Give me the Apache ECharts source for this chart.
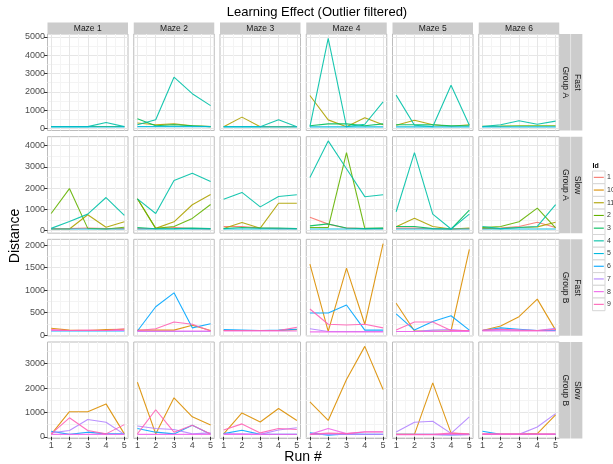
<!DOCTYPE html>
<html><head><meta charset="utf-8">
<script src="https://cdn.jsdelivr.net/npm/echarts@6/dist/echarts.min.js"></script>
<style>html,body{margin:0;padding:0;background:#fff}#c{width:613px;height:464px}</style>
</head><body><div id="c"></div>
<script>
// ---------- data ----------
const runs = [1, 2, 3, 4, 5];
const mazes = ['Maze 1', 'Maze 2', 'Maze 3', 'Maze 4', 'Maze 5', 'Maze 6'];
const rowSpeeds = ['Fast', 'Slow', 'Fast', 'Slow'];
const rowGroups = ['Group A', 'Group A', 'Group B', 'Group B'];
const ids = ['1', '10', '11', '2', '3', '4', '5', '6', '7', '8', '9'];
const xTicks = [1, 2, 3, 4, 5];
const xMinor = [1.5, 2.5, 3.5, 4.5];
const rowTicks = [
  [0, 1000, 2000, 3000, 4000, 5000],
  [0, 1000, 2000, 3000, 4000],
  [0, 500, 1000, 1500, 2000],
  [0, 1000, 2000, 3000]
];
const rowMinor = [
  [500, 1500, 2500, 3500, 4500],
  [500, 1500, 2500, 3500],
  [250, 750, 1250, 1750],
  [500, 1500, 2500, 3500]
];
const rowRange = [[-110, 5160], [-115, 4420], [-18, 2133], [-70, 3889]];

// each panel (maze): list of [id, distance per run]
const fastGroupA = [
  [['2', [110, 110, 110, 110, 110]], ['4', [100, 100, 100, 330, 100]], ['5', [90, 90, 90, 90, 90]]],
  [['11', [300, 200, 250, 150, 100]], ['3', [530, 150, 200, 150, 100]], ['4', [200, 480, 2800, 1900, 1250]], ['5', [100, 100, 100, 100, 100]]],
  [['11', [100, 620, 100, 100, 100]], ['4', [100, 100, 100, 480, 100]], ['5', [90, 90, 90, 90, 90]]],
  [['11', [1800, 470, 100, 590, 200]], ['3', [150, 250, 250, 150, 250]], ['4', [100, 4920, 100, 230, 1450]], ['5', [90, 90, 90, 90, 90]]],
  [['11', [180, 450, 200, 120, 200]], ['3', [200, 200, 200, 150, 150]], ['4', [1820, 180, 100, 2360, 180]], ['5', [90, 90, 90, 90, 90]]],
  [['2', [120, 130, 150, 150, 150]], ['4', [100, 200, 420, 230, 400]], ['5', [90, 90, 90, 90, 90]]]
];
const slowGroupA = [
  [['1', [100, 100, 130, 100, 100]], ['11', [80, 80, 750, 160, 420]], ['2', [810, 1980, 110, 80, 160]], ['4', [110, 430, 780, 1560, 720]], ['5', [80, 80, 80, 80, 80]]],
  [['1', [100, 100, 150, 100, 80]], ['11', [1500, 110, 420, 1220, 1700]], ['2', [1500, 110, 200, 580, 1230]], ['3', [150, 90, 100, 120, 100]], ['4', [1500, 810, 2360, 2700, 2310]], ['5', [80, 80, 80, 80, 80]]],
  [['1', [200, 200, 130, 100, 100]], ['11', [100, 390, 120, 1290, 1290]], ['3', [100, 150, 120, 130, 100]], ['4', [1480, 1800, 1120, 1610, 1690]], ['5', [80, 80, 80, 80, 80]]],
  [['1', [630, 310, 120, 100, 100]], ['2', [150, 150, 3670, 110, 110]], ['3', [230, 320, 130, 100, 120]], ['4', [2500, 4220, 2910, 1600, 1690]], ['5', [80, 80, 80, 80, 80]]],
  [['1', [120, 120, 100, 80, 100]], ['11', [190, 590, 200, 80, 130]], ['3', [200, 200, 100, 80, 970]], ['4', [890, 3670, 780, 80, 780]], ['5', [80, 80, 80, 80, 80]]],
  [['1', [100, 120, 200, 400, 150]], ['11', [120, 100, 150, 180, 400]], ['2', [150, 200, 420, 1060, 130]], ['4', [200, 100, 150, 200, 1230]], ['5', [80, 80, 80, 80, 80]]]
];
const fastGroupB = [
  [['10', [150, 110, 100, 120, 130]], ['6', [90, 90, 90, 90, 90]], ['8', [100, 100, 100, 100, 100]], ['9', [120, 100, 110, 100, 140]]],
  [['10', [110, 110, 110, 220, 100]], ['6', [90, 630, 940, 160, 250]], ['7', [80, 80, 80, 80, 80]], ['8', [90, 90, 90, 90, 90]], ['9', [100, 140, 290, 240, 90]]],
  [['10', [100, 100, 100, 100, 120]], ['6', [120, 110, 100, 110, 130]], ['8', [90, 90, 90, 90, 90]], ['9', [100, 100, 100, 100, 170]]],
  [['10', [1580, 80, 1490, 240, 2040]], ['6', [490, 490, 670, 110, 110]], ['7', [140, 80, 80, 80, 80]], ['8', [70, 70, 70, 70, 70]], ['9', [580, 240, 225, 240, 160]]],
  [['10', [710, 90, 90, 90, 1910]], ['6', [470, 110, 300, 430, 110]], ['7', [80, 80, 110, 120, 90]], ['8', [80, 80, 80, 80, 80]], ['9', [110, 290, 290, 100, 100]]],
  [['10', [100, 200, 410, 800, 110]], ['6', [100, 160, 130, 100, 100]], ['7', [100, 110, 110, 100, 150]], ['8', [90, 90, 90, 90, 90]], ['9', [110, 130, 110, 100, 130]]]
];
const slowGroupB = [
  [['10', [100, 1030, 1030, 1350, 120]], ['6', [230, 100, 190, 120, 120]], ['7', [160, 260, 710, 600, 100]], ['8', [100, 100, 100, 100, 100]], ['9', [120, 780, 260, 120, 500]]],
  [['10', [2240, 120, 1600, 820, 480]], ['6', [340, 190, 120, 470, 100]], ['7', [440, 340, 300, 120, 160]], ['8', [100, 100, 100, 100, 100]], ['9', [120, 1110, 190, 470, 120]]],
  [['10', [120, 980, 610, 1160, 670]], ['6', [130, 270, 100, 100, 100]], ['7', [120, 120, 100, 280, 370]], ['8', [100, 100, 100, 100, 100]], ['9', [280, 530, 160, 340, 300]]],
  [['10', [1430, 670, 2350, 3710, 1940]], ['6', [160, 70, 120, 100, 100]], ['7', [100, 100, 100, 100, 100]], ['8', [100, 340, 130, 210, 210]], ['9', [100, 150, 130, 200, 200]]],
  [['10', [100, 100, 2210, 150, 100]], ['6', [100, 100, 100, 80, 100]], ['7', [200, 600, 640, 140, 820]], ['8', [90, 90, 90, 90, 90]], ['9', [100, 100, 100, 150, 120]]],
  [['10', [100, 100, 100, 130, 900]], ['6', [230, 100, 100, 100, 100]], ['7', [100, 100, 100, 400, 950]], ['8', [100, 100, 100, 100, 100]], ['9', [120, 120, 120, 120, 120]]]
];

// ---------- style / layout ----------
const idColors = ['#F8766D', '#DB8E00', '#AEA200', '#64B200', '#00BD5C', '#00C1A7', '#00BADE', '#00A6FF', '#B385FF', '#EF67EB', '#FF63B6'];
const FONT = '"Liberation Sans", Arial, sans-serif';
const PL = 47.5, PW = 80.5, PGX = 86.25;
const PT = 34, PH = 96.5, PGY = 102.67;
const xMin = 0.8, xMax = 5.2;
const majorColor = '#E6E6E6', minorColor = '#F4F4F4';
const stripFill = '#CCCCCC';

const rows = [fastGroupA, slowGroupA, fastGroupB, slowGroupB];
const grids = [], xAxes = [], yAxes = [], series = [], graphics = [];

rows.forEach((row, r) => {
  row.forEach((panel, c) => {
    const g = grids.length;
    const bottom = r === rows.length - 1, first = c === 0;
    grids.push({left: PL + PGX * c, top: PT + PGY * r, width: PW, height: PH,
      show: true, borderColor: '#BDBDBD', borderWidth: 1, backgroundColor: '#fff', containLabel: false});
    xAxes.push({gridIndex: g, type: 'value', min: xMin, max: xMax,
      axisLine: {show: false},
      axisTick: {show: bottom, customValues: xTicks, length: 3.5, lineStyle: {color: '#333'}},
      axisLabel: {show: bottom, customValues: xTicks, margin: 2.5, fontSize: 9, color: '#4D4D4D', fontFamily: FONT, formatter: v => String(v)},
      splitLine: {show: true, lineStyle: {color: majorColor, width: 1}}});
    xAxes.push({gridIndex: g, type: 'value', min: xMin, max: xMax,
      axisLine: {show: false}, axisTick: {show: false, customValues: xMinor}, axisLabel: {show: false},
      splitLine: {show: true, lineStyle: {color: minorColor, width: 1}}});
    yAxes.push({gridIndex: g, type: 'value', min: rowRange[r][0], max: rowRange[r][1],
      axisLine: {show: false},
      axisTick: {show: first, customValues: rowTicks[r], length: 3.5, lineStyle: {color: '#333'}},
      axisLabel: {show: first, customValues: rowTicks[r], margin: 2.5, fontSize: 9, color: '#4D4D4D', fontFamily: FONT, formatter: v => String(v)},
      splitLine: {show: true, lineStyle: {color: majorColor, width: 1}}});
    yAxes.push({gridIndex: g, type: 'value', min: rowRange[r][0], max: rowRange[r][1],
      axisLine: {show: false}, axisTick: {show: false, customValues: rowMinor[r]}, axisLabel: {show: false},
      splitLine: {show: true, lineStyle: {color: minorColor, width: 1}}});
    const sorted = panel.slice().sort((a, b) => ids.indexOf(a[0]) - ids.indexOf(b[0]));
    sorted.forEach(([id, vals]) => {
      const col = idColors[ids.indexOf(id)];
      series.push({type: 'line', name: id, xAxisIndex: 2 * g, yAxisIndex: 2 * g,
        data: runs.map((x, i) => [x, vals[i]]), symbol: 'none', showSymbol: false,
        lineStyle: {color: col, width: 1.1, opacity: 0.9}, itemStyle: {color: col}, silent: true});
    });
  });
});

// top strips
mazes.forEach((m, c) => {
  const x = PL + PGX * c;
  graphics.push({type: 'rect', shape: {x: x, y: 22.5, width: PW, height: 11.5}, style: {fill: stripFill}});
  graphics.push({type: 'text', x: x + PW / 2, y: 28.5, style: {text: m, x: 0, y: 0, align: 'center', verticalAlign: 'middle', fill: '#1A1A1A', font: '8.5px ' + FONT}});
});
// right strips
const stripX1 = PL + PGX * 5 + PW;
rowGroups.forEach((gname, r) => {
  const y = PT + PGY * r;
  graphics.push({type: 'rect', shape: {x: stripX1, y: y, width: 11.3, height: PH}, style: {fill: stripFill}});
  graphics.push({type: 'rect', shape: {x: stripX1 + 11.8, y: y, width: 11.3, height: PH}, style: {fill: stripFill}});
  graphics.push({type: 'text', x: stripX1 + 5.8, y: y + PH / 2, rotation: -Math.PI / 2, style: {text: gname, x: 0, y: 0, align: 'center', verticalAlign: 'middle', fill: '#1A1A1A', font: '8.5px ' + FONT}});
  graphics.push({type: 'text', x: stripX1 + 17.6, y: y + PH / 2, rotation: -Math.PI / 2, style: {text: rowSpeeds[r], x: 0, y: 0, align: 'center', verticalAlign: 'middle', fill: '#1A1A1A', font: '8.5px ' + FONT}});
});
// titles
graphics.push({type: 'text', x: 317, y: 12, style: {text: 'Learning Effect (Outlier filtered)', x: 0, y: 0, align: 'center', verticalAlign: 'middle', fill: '#000', font: '13px ' + FONT}});
graphics.push({type: 'text', x: 303, y: 457, style: {text: 'Run #', x: 0, y: 0, align: 'center', verticalAlign: 'middle', fill: '#000', font: '14px ' + FONT}});
graphics.push({type: 'text', x: 15, y: 236, rotation: Math.PI / 2, style: {text: 'Distance', x: 0, y: 0, align: 'center', verticalAlign: 'middle', fill: '#000', font: '14px ' + FONT}});
// legend (drawn manually: keys with line glyphs)
graphics.push({type: 'text', x: 592.5, y: 166, style: {text: 'Id', x: 0, y: 0, align: 'left', verticalAlign: 'middle', fill: '#000', font: 'bold 7px ' + FONT}});
ids.forEach((id, i) => {
  const ky = 171 + 12.7 * i;
  graphics.push({type: 'rect', shape: {x: 592.5, y: ky, width: 12.5, height: 12.7}, style: {fill: '#fff', stroke: '#D6D6D6', lineWidth: 1}});
  graphics.push({type: 'line', shape: {x1: 593.8, y1: ky + 6.35, x2: 603.8, y2: ky + 6.35}, style: {stroke: idColors[i], lineWidth: 1.1}});
  graphics.push({type: 'text', x: 607, y: ky + 6.35, style: {text: id, x: 0, y: 0, align: 'left', verticalAlign: 'middle', fill: '#333', font: '7px ' + FONT}});
});

const chart = echarts.init(document.getElementById('c'), null, {renderer: 'canvas'});
chart.setOption({
  animation: false,
  backgroundColor: '#fff',
  grid: grids,
  xAxis: xAxes,
  yAxis: yAxes,
  graphic: graphics,
  series: series
});
</script></body></html>
